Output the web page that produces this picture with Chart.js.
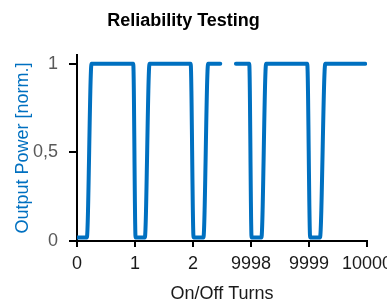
<!DOCTYPE html>
<html>
<head>
<meta charset="utf-8">
<script src="https://cdn.jsdelivr.net/npm/chart.js@4"></script>
<style>
  html, body { margin: 0; padding: 0; background: #fff; }
  #wrap { width: 387px; height: 305px; }
</style>
</head>
<body>
<div id="wrap"><canvas id="reliabilityChart"></canvas></div>
<script>
// Reliability Testing - square wave of normalised output power

const turns = [0, 0.17, 0.25, 0.97, 1.01, 1.17, 1.25, 1.96, 2.01, 2.18, 2.26, 2.47,
               2.6,
               9997.74, 9997.97, 9998.01, 9998.18, 9998.26, 9998.97, 9999.02, 9999.19, 9999.28, 9999.97];
const power = [0.02, 0.02, 1, 1, 0.02, 0.02, 1, 1, 0.02, 0.02, 1, 1,
               null,
               1, 1, 0.02, 0.02, 1, 1, 0.02, 0.02, 1, 1];
const xTickLabels = ['0', '1', '2', '9998', '9999', '10000'];
const yTicks = [0, 0.5, 1];
const yTickLabels = ['0', '0,5', '1'];

// broken axis: 9998 sits right after 2
const axisPos = t => (t > 5000 ? t - 9995 : t);

const blue = '#0070C0';
const font = "'Liberation Sans Narrow', 'Arial Narrow', Arial, sans-serif";

const ctx = document.getElementById('reliabilityChart').getContext('2d');
new Chart(ctx, {
    type: 'line',
    data: {
        datasets: [{
            data: turns.map((t, i) => ({ x: axisPos(t), y: power[i] })),
            borderColor: blue,
            borderWidth: 4,
            borderCapStyle: 'round',
            borderJoinStyle: 'round',
            cubicInterpolationMode: 'monotone',
            pointRadius: 0,
            spanGaps: false,
            fill: false
        }]
    },
    options: {
        responsive: true,
        maintainAspectRatio: false,
        animation: false,
        layout: { padding: { left: 0, right: 20, top: 0, bottom: 0 } },
        plugins: {
            legend: { display: false },
            tooltip: { enabled: false },
            title: {
                display: true,
                text: 'Reliability Testing',
                color: '#000',
                font: { family: font, size: 18, weight: 'bold' },
                padding: { top: 10, bottom: 23.4 }
            }
        },
        scales: {
            x: {
                type: 'linear',
                min: 0,
                max: 5,
                afterBuildTicks: s => { s.ticks = xTickLabels.map((_, i) => ({ value: i })); },
                afterFit: s => { s.height = 64; s.paddingLeft = 0; s.paddingRight = 0; },
                ticks: {
                    callback: (v, i) => xTickLabels[i],
                    autoSkip: false,
                    maxRotation: 0,
                    minRotation: 0,
                    padding: 6,
                    color: '#1a1a1a',
                    font: { family: font, size: 18 }
                },
                grid: { drawOnChartArea: false, color: '#000', lineWidth: 2, tickLength: 6 },
                border: { color: '#000', width: 2 },
                title: {
                    display: true,
                    text: 'On/Off Turns',
                    color: '#1a1a1a',
                    font: { family: font, size: 18 },
                    padding: { top: 0, bottom: 0 }
                }
            },
            y: {
                min: 0,
                max: 1.05,
                afterBuildTicks: s => { s.ticks = yTicks.map(v => ({ value: v })); },
                afterFit: s => { s.width = 77; },
                ticks: {
                    callback: (v, i) => yTickLabels[i],
                    padding: 11,
                    color: '#595959',
                    font: { family: font, size: 18 }
                },
                grid: { drawOnChartArea: false, color: '#000', lineWidth: 2, tickLength: 8 },
                border: { color: '#000', width: 2 },
                title: {
                    display: true,
                    text: 'Output Power [norm.]',
                    color: blue,
                    font: { family: font, size: 18 },
                    padding: { top: 12, bottom: 0 }
                }
            }
        }
    }
});
</script>
</body>
</html>
